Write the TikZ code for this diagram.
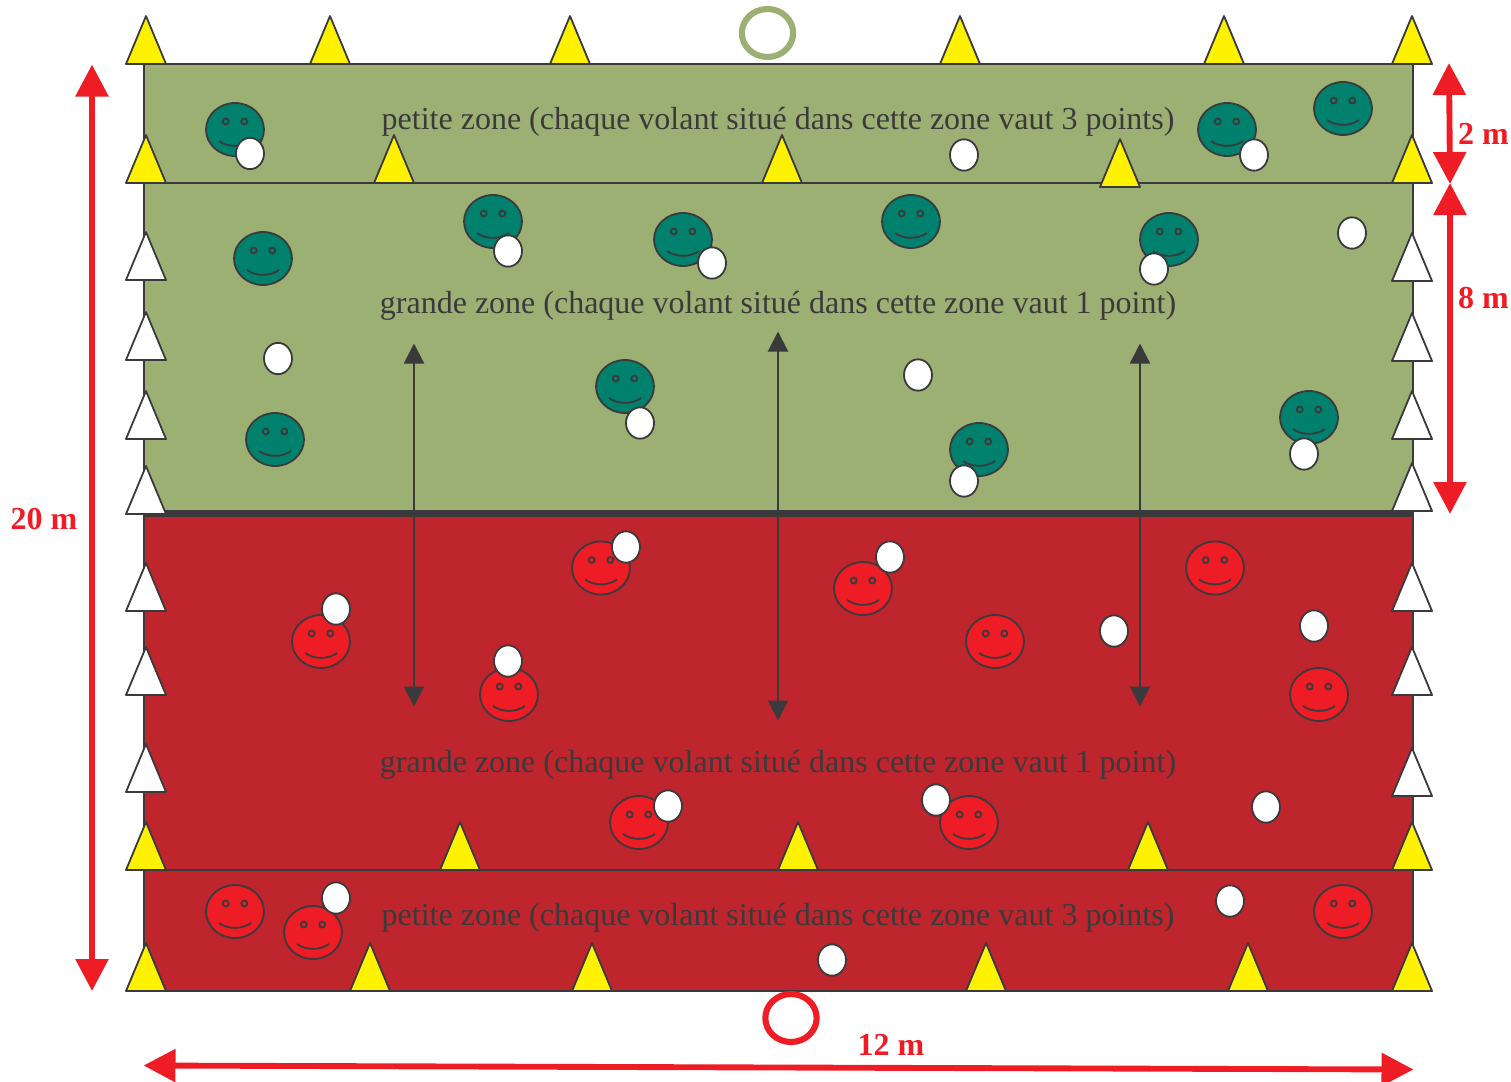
\documentclass[tikz,border=0pt]{standalone}
\usepackage{fontspec}
\setmainfont{Liberation Serif}
\usetikzlibrary{shapes.geometric, arrows.meta, positioning}
\definecolor{pitchgreen}{HTML}{9DB073}
\definecolor{pitchred}{HTML}{BE252C}
\definecolor{teamgreen}{HTML}{00816D}
\definecolor{teamred}{HTML}{EE1C25}
\definecolor{inkgrey}{HTML}{3A3A3C}
\definecolor{conegold}{HTML}{FFF200}
\definecolor{goalgreen}{HTML}{9DB073}
\tikzstyle{zonelabel} = [
    text=inkgrey,
    inner sep=0pt,
    font=\fontsize{24}{24}\selectfont
]
\tikzstyle{sizelabel} = [
    text=teamred,
    inner sep=0pt,
    font=\fontsize{24}{24}\selectfont\bfseries
]
\tikzstyle{volant} = [
    ellipse,
    draw=inkgrey,
    fill=white,
    line width=1.35pt,
    inner sep=0pt,
    minimum width=21pt,
    minimum height=23.5pt
]
\tikzstyle{goal} = [
    ellipse,
    fill=none,
    line width=4.6pt,
    inner sep=0pt,
    minimum width=38.5pt,
    minimum height=36pt
]
\tikzstyle{zone} = [draw=inkgrey, line width=1.35pt]
\tikzstyle{runarrow} = [
    <->,
    >={Triangle[length=15pt,width=15pt]},
    draw=inkgrey,
    line width=1.6pt
]
\tikzstyle{sizearrow} = [
    <->,
    >={Triangle[length=24pt,width=24pt]},
    draw=teamred,
    line width=4.4pt
]
\tikzset{
    pics/cone/.style={code={
        \draw[draw=inkgrey, fill=#1, line width=1.35pt, line join=round]
            (-20,0) -- (0,-48) -- (20,0) -- cycle;
    }},
    pics/smiley/.style={code={
        \draw[draw=inkgrey, fill=#1, line width=1.35pt] (0,0) ellipse (29 and 26.5);
        \draw[draw=inkgrey, line width=1.35pt] (-9.3,-8) circle (3);
        \draw[draw=inkgrey, line width=1.35pt] (9.3,-8) circle (3);
        \draw[draw=inkgrey, line width=1.35pt]
            (-16,11.5) .. controls (-7,18) and (7,18) .. (16,11.5);
    }}
}
\begin{document}
\begin{tikzpicture}[x=0.75pt, y=-0.75pt]
    \useasboundingbox (0,0) rectangle (1511,1082);

    % Zones
    \fill[pitchgreen] (144,64) rectangle (1413,513);
    \fill[pitchred] (144,513) rectangle (1413,991);
    \draw[zone] (144,64) rectangle (1413,513);
    \draw[zone] (144,513) rectangle (1413,991);
    \draw[zone] (144,183) -- (1413,183);
    \draw[zone] (144,870) -- (1413,870);
    \draw[draw=inkgrey, line width=5.2pt] (144,513.5) -- (1413,513.5);

    % Zone labels
    \node (top_small) [zonelabel] at (778,122) {petite zone (chaque volant situé dans cette zone vaut 3 points)};
    \node (top_large) [zonelabel] at (778,306) {grande zone (chaque volant situé dans cette zone vaut 1 point)};
    \node (low_large) [zonelabel] at (778,765) {grande zone (chaque volant situé dans cette zone vaut 1 point)};
    \node (low_small) [zonelabel] at (778,918) {petite zone (chaque volant situé dans cette zone vaut 3 points)};

    % Goals
    \node (goal_top) [goal, draw=goalgreen] at (767.5,33) {};
    \node (goal_low) [goal, draw=teamred] at (791,1018) {};

    % Cones on the end lines
    \pic at (146,64) {cone=conegold};
    \pic at (330,64) {cone=conegold};
    \pic at (570,64) {cone=conegold};
    \pic at (960,64) {cone=conegold};
    \pic at (1224,64) {cone=conegold};
    \pic at (1412,64) {cone=conegold};
    \pic at (146,991) {cone=conegold};
    \pic at (370,991) {cone=conegold};
    \pic at (592,991) {cone=conegold};
    \pic at (986,991) {cone=conegold};
    \pic at (1248,991) {cone=conegold};
    \pic at (1412,991) {cone=conegold};

    % Cones on the small zone lines
    \pic at (146,183) {cone=conegold};
    \pic at (394,183) {cone=conegold};
    \pic at (782,183) {cone=conegold};
    \pic at (1120,187) {cone=conegold};
    \pic at (1412,183) {cone=conegold};
    \pic at (146,870) {cone=conegold};
    \pic at (460,870) {cone=conegold};
    \pic at (798,870) {cone=conegold};
    \pic at (1148,870) {cone=conegold};
    \pic at (1412,870) {cone=conegold};

    % Cones on the side lines
    \pic at (146,280) {cone=white};
    \pic at (146,360) {cone=white};
    \pic at (146,439) {cone=white};
    \pic at (146,514) {cone=white};
    \pic at (146,611) {cone=white};
    \pic at (146,695) {cone=white};
    \pic at (146,792) {cone=white};
    \pic at (1412,281) {cone=white};
    \pic at (1412,361) {cone=white};
    \pic at (1412,439) {cone=white};
    \pic at (1412,511) {cone=white};
    \pic at (1412,611) {cone=white};
    \pic at (1412,695) {cone=white};
    \pic at (1412,796) {cone=white};

    % Green team
    \pic at (235,129.5) {smiley=teamgreen};
    \pic at (1227,129.5) {smiley=teamgreen};
    \pic at (1343,108.5) {smiley=teamgreen};
    \pic at (263,258.5) {smiley=teamgreen};
    \pic at (493,221.5) {smiley=teamgreen};
    \pic at (683,239.5) {smiley=teamgreen};
    \pic at (911,221.5) {smiley=teamgreen};
    \pic at (1169,239.5) {smiley=teamgreen};
    \pic at (625,386.5) {smiley=teamgreen};
    \pic at (275,439.5) {smiley=teamgreen};
    \pic at (979,449.5) {smiley=teamgreen};
    \pic at (1309,417.5) {smiley=teamgreen};

    % Red team
    \pic at (601,568) {smiley=teamred};
    \pic at (863,588.5) {smiley=teamred};
    \pic at (1215,568) {smiley=teamred};
    \pic at (321,641.5) {smiley=teamred};
    \pic at (995,641.5) {smiley=teamred};
    \pic at (509,694.5) {smiley=teamred};
    \pic at (1319,694.5) {smiley=teamred};
    \pic at (639,822.5) {smiley=teamred};
    \pic at (969,822.5) {smiley=teamred};
    \pic at (235,911.5) {smiley=teamred};
    \pic at (313,932.5) {smiley=teamred};
    \pic at (1343,911.5) {smiley=teamred};

    % Shuttlecocks
    \node (volant_a) [volant] at (250,153.5) {};
    \node (volant_b) [volant] at (964,155) {};
    \node (volant_c) [volant] at (1254,155) {};
    \node (volant_d) [volant] at (508,251) {};
    \node (volant_e) [volant] at (712,263) {};
    \node (volant_f) [volant] at (1154,269) {};
    \node (volant_g) [volant] at (1352,233) {};
    \node (volant_h) [volant] at (278,358.5) {};
    \node (volant_i) [volant] at (918,375) {};
    \node (volant_j) [volant] at (640,423) {};
    \node (volant_k) [volant] at (964,481) {};
    \node (volant_l) [volant] at (1304,454) {};
    \node (volant_m) [volant] at (626,547) {};
    \node (volant_n) [volant] at (890,557) {};
    \node (volant_o) [volant] at (336,609) {};
    \node (volant_p) [volant] at (508,661) {};
    \node (volant_q) [volant] at (1114,631) {};
    \node (volant_r) [volant] at (1314,626) {};
    \node (volant_s) [volant] at (668,806) {};
    \node (volant_t) [volant] at (936,800) {};
    \node (volant_u) [volant] at (1266,807) {};
    \node (volant_v) [volant] at (336,898) {};
    \node (volant_w) [volant] at (1230,901) {};
    \node (volant_x) [volant] at (832,960) {};

    % Running arrows across the centre line
    \coordinate (run_a_top) at (414,343.5);
    \coordinate (run_a_low) at (414,706.5);
    \coordinate (run_b_top) at (778,331.5);
    \coordinate (run_b_low) at (778,720.5);
    \coordinate (run_c_top) at (1140,343.5);
    \coordinate (run_c_low) at (1140,706.5);
    \draw [runarrow] (run_a_top) -- (run_a_low);
    \draw [runarrow] (run_b_top) -- (run_b_low);
    \draw [runarrow] (run_c_top) -- (run_c_low);

    % Dimensions
    \coordinate (length_top) at (92,64.5);
    \coordinate (length_low) at (92,991);
    \coordinate (small_top) at (1449,63);
    \coordinate (small_low) at (1450,184);
    \coordinate (large_top) at (1450,183);
    \coordinate (large_low) at (1450,514);
    \coordinate (width_left) at (143.5,1065.5);
    \coordinate (width_right) at (1413.5,1069.5);
    \draw [sizearrow] (length_top) -- (length_low);
    \draw [sizearrow] (small_top) -- (small_low);
    \draw [sizearrow] (large_top) -- (large_low);
    \draw [sizearrow] (width_left) -- (width_right);
    \node (length_label) [sizelabel] at (44,519.5) {20 m};
    \node (small_label) [sizelabel] at (1483.5,133.5) {2 m};
    \node (large_label) [sizelabel] at (1483.5,298) {8 m};
    \node (width_label) [sizelabel] at (891,1044.5) {12 m};
\end{tikzpicture}
\end{document}
